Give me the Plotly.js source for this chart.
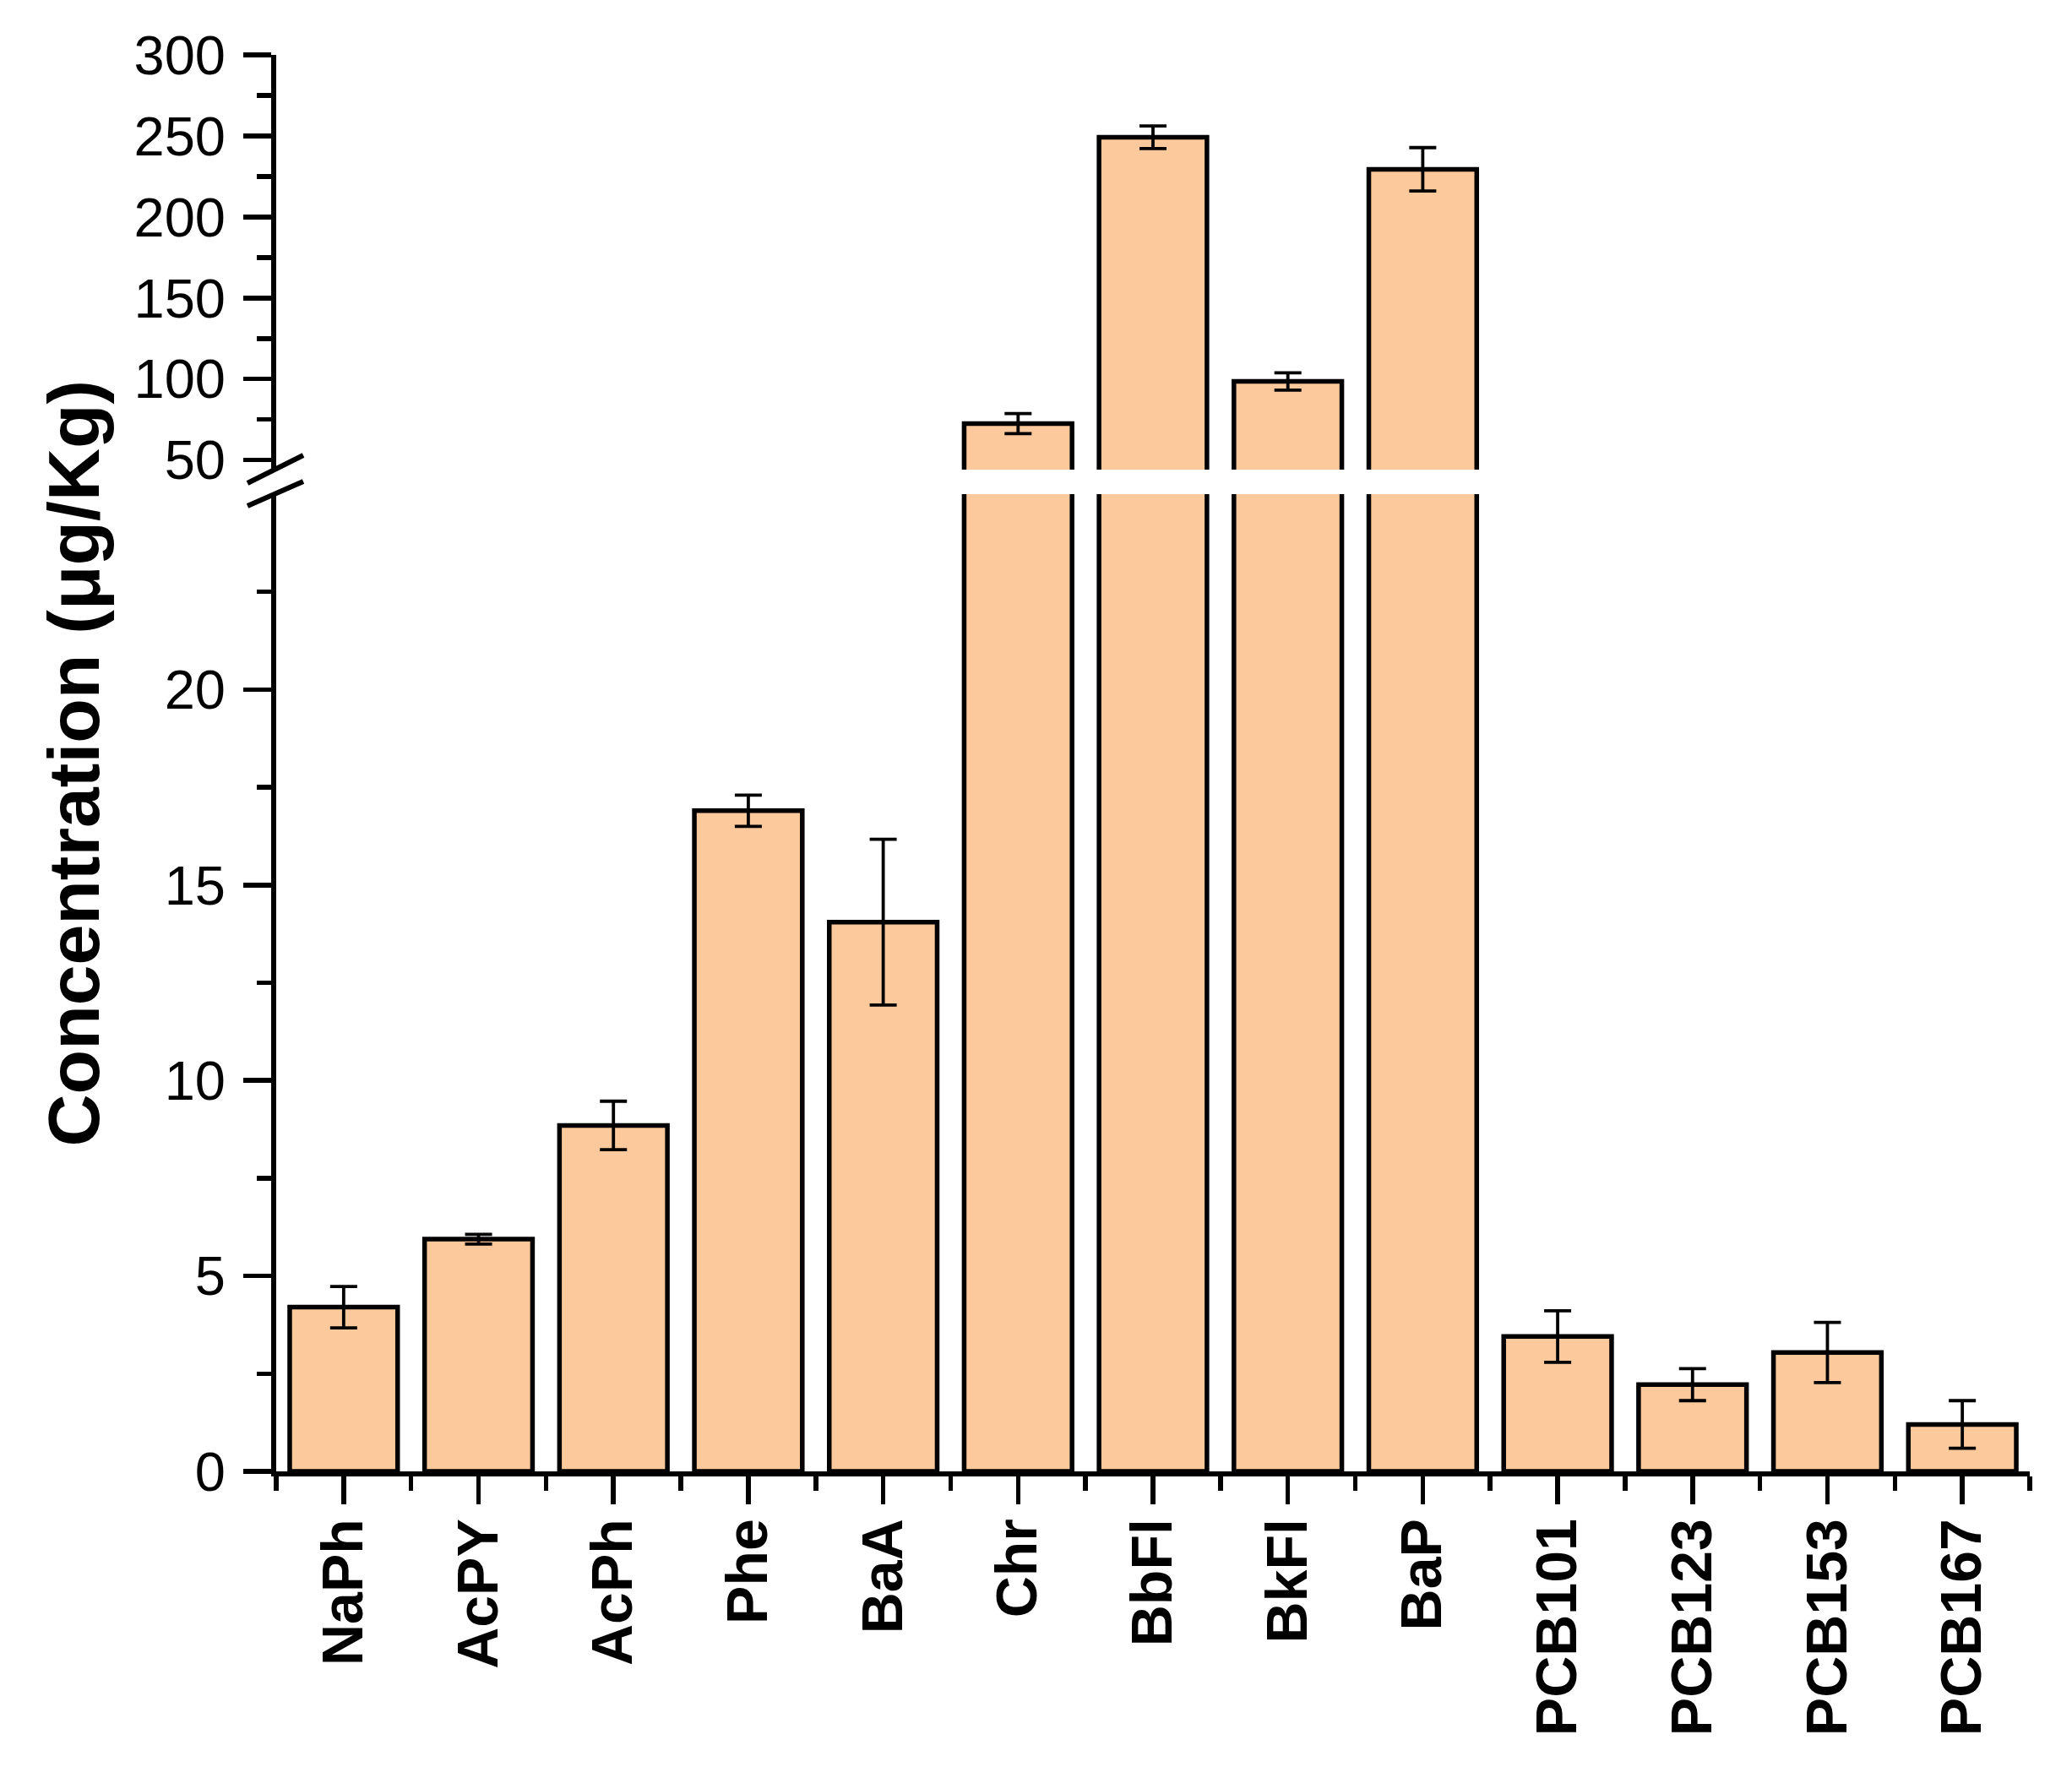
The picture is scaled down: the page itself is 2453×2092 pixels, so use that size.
<!DOCTYPE html>
<html>
<head>
<meta charset="utf-8">
<script src="https://cdn.plot.ly/plotly-3.0.1.min.js"></script>
<style>html,body{margin:0;padding:0;background:#fff;}</style>
</head>
<body>
<div id="chart" style="width:2453px;height:2092px;"></div>
<script>
// ---- Data ----
const categories = ['NaPh','AcPY','AcPh','Phe','BaA','Chr','BbFl','BkFl','BaP','PCB101','PCB123','PCB153','PCB167'];
const concentration = [4.20, 5.94, 8.85, 16.9, 14.05, 72.5, 249.2, 98.5, 229.4, 3.45, 2.22, 3.04, 1.20];
const errorSD = [0.53, 0.125, 0.62, 0.40, 2.12, 6.2, 7.0, 5.3, 13.4, 0.66, 0.41, 0.77, 0.61];
const lowerTicks = [0, 5, 10, 15, 20];
const lowerMinor = [2.5, 7.5, 12.5, 17.5, 22.5];
const upperTicks = [50, 100, 150, 200, 250, 300];
const upperMinor = [75, 125, 175, 225, 275];
const yTitle = 'Concentration (μg/Kg)';

// ---- Layout geometry ----
const W = 2453, H = 2092;
const mL = 327, mR = 50, mT = 65, mB = 350;
const plotH = H - mT - mB;
const lowerTopPx = 585, upperBottomPx = 556;
const lowerDom = [0, (H - mB - lowerTopPx) / plotH];
const upperDom = [(H - mB - upperBottomPx) / plotH, 1];
const lowerRange = [0, 25];
const upperRange = [44.1, 300];

const idx = categories.map((c, i) => i);
const barColor = '#FBC99B';

function barTrace(yaxis) {
  return {
    type: 'bar',
    x: idx,
    y: concentration,
    yaxis: yaxis,
    width: 0.8,
    marker: {color: barColor, line: {color: '#000', width: 5.5}},
    error_y: {type: 'data', array: errorSD, visible: true, color: '#000', thickness: 3.8, width: 16},
    hoverinfo: 'skip',
    showlegend: false
  };
}

const tickFont = {family: 'Liberation Sans, Arial, sans-serif', size: 65, color: '#000'};
const commonY = {
  showline: true, linecolor: '#000', linewidth: 6,
  ticks: 'outside', ticklen: 33, tickwidth: 5.5, tickcolor: '#000',
  showgrid: false, zeroline: false,
  tickfont: tickFont, ticklabelstandoff: 8,
  fixedrange: true
};

const layout = {
  width: W, height: H,
  paper_bgcolor: '#fff', plot_bgcolor: 'rgba(0,0,0,0)',
  margin: {l: mL, r: mR, t: mT, b: mB, pad: 0},
  showlegend: false,
  bargap: 0.2,
  xaxis: {
    range: [-0.5, categories.length - 0.5],
    tickmode: 'array', tickvals: idx, ticktext: categories,
    tickangle: -90,
    showline: true, linecolor: '#000', linewidth: 6,
    ticks: 'outside', ticklen: 33, tickwidth: 5.5, tickcolor: '#000',
    minor: {ticks: 'outside', tick0: 0.5, dtick: 1, ticklen: 17, tickwidth: 5.5, tickcolor: '#000', showgrid: false},
    showgrid: false, zeroline: false,
    tickfont: {family: 'Liberation Sans, Arial, sans-serif', size: 68, color: '#000', weight: 'bold'},
    ticklabelstandoff: -10,
    anchor: 'y', fixedrange: true
  },
  yaxis: Object.assign({}, commonY, {
    domain: lowerDom, range: lowerRange,
    tickmode: 'array', tickvals: lowerTicks,
    minor: {ticks: 'outside', tickmode: 'array', tickvals: lowerMinor, ticklen: 17, tickwidth: 5.5, tickcolor: '#000', showgrid: false},
    anchor: 'x'
  }),
  yaxis2: Object.assign({}, commonY, {
    domain: upperDom, range: upperRange,
    tickmode: 'array', tickvals: upperTicks,
    minor: {ticks: 'outside', tickmode: 'array', tickvals: upperMinor, ticklen: 17, tickwidth: 5.5, tickcolor: '#000', showgrid: false},
    anchor: 'x'
  }),
  annotations: [{
    text: yTitle, textangle: -90,
    xref: 'paper', yref: 'paper',
    x: (86 - mL) / (W - mL - mR), y: 0.5,
    xanchor: 'center', yanchor: 'middle', showarrow: false,
    font: {family: 'Liberation Sans, Arial, sans-serif', size: 86, color: '#000', weight: 'bold'}
  }],
  shapes: [
    {type: 'line', xref: 'paper', yref: 'paper', xsizemode: 'pixel', ysizemode: 'pixel',
     xanchor: 0, yanchor: upperDom[0], x0: -34, y0: -16, x1: 32, y1: 17,
     line: {color: '#000', width: 6}},
    {type: 'line', xref: 'paper', yref: 'paper', xsizemode: 'pixel', ysizemode: 'pixel',
     xanchor: 0, yanchor: lowerDom[1], x0: -34, y0: -14, x1: 32, y1: 15,
     line: {color: '#000', width: 6}}
  ]
};

Plotly.newPlot('chart', [barTrace('y'), barTrace('y2')], layout, {staticPlot: true, displayModeBar: false});
</script>
</body>
</html>
